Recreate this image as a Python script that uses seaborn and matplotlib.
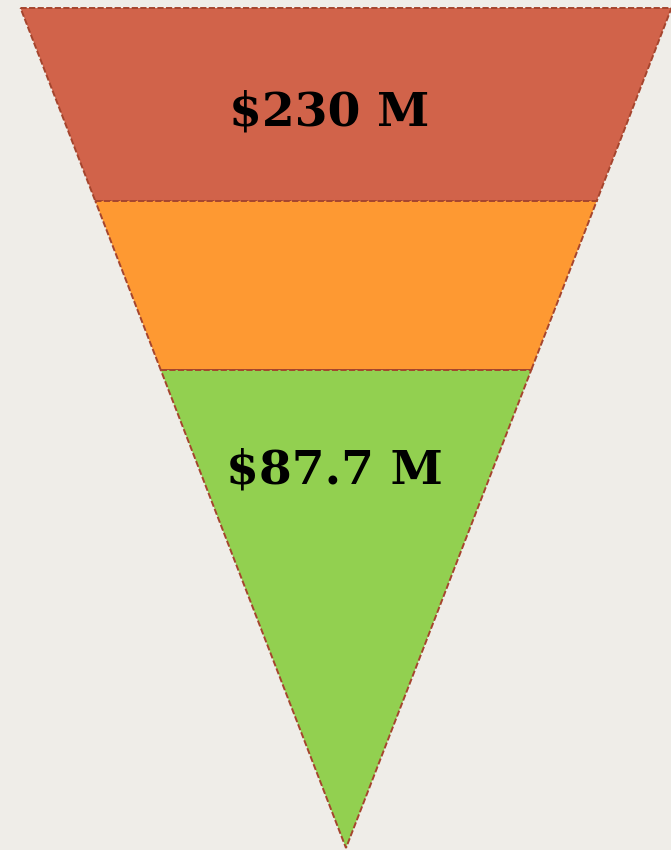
import matplotlib
matplotlib.use("Agg")
import numpy as np
import matplotlib.pyplot as plt
import seaborn as sns

# funnel stages, top to bottom
stage_labels = ["$230 M", "", "$87.7 M"]
stage_depth = [193, 169, 478]          # depth of each band in the funnel
stage_colors = ["#d1634a", "#fe9932", "#92d050"]
label_offset = [-17, 0, -12]           # small horizontal shift of the labels

sns.set_style("white")
plt.rcParams["font.family"] = ["DejaVu Serif"]

bg = "#efede8"
edge = "#a5452e"
top_half = 325.5
center_x = 346
top_y = 8
total = sum(stage_depth)

fig = plt.figure(figsize=(6.71, 8.5), dpi=100, facecolor=bg)
ax = fig.add_axes([0, 0, 1, 1])
ax.set_facecolor(bg)
ax.set_xlim(0, 671)
ax.set_ylim(850, 0)
ax.axis("off")

def half_width(d):
    return top_half * (1 - d / total)

d0 = 0
for lab, dep, col, off in zip(stage_labels, stage_depth, stage_colors, label_offset):
    d1 = d0 + dep
    w0, w1 = half_width(d0), half_width(d1)
    xs = [center_x - w0, center_x + w0, center_x + w1, center_x - w1]
    ys = [top_y + d0, top_y + d0, top_y + d1, top_y + d1]
    ax.fill(xs, ys, facecolor=col, edgecolor=edge, linewidth=1.4,
            linestyle=(0, (3.2, 1.2)), joinstyle="miter")
    if lab:
        if d0 == 0:
            ty = top_y + 104
        else:
            ty = top_y + d0 + 100
        ax.text(center_x + off, ty, lab, ha="center", va="center",
                fontsize=34, fontweight="bold", color="black")
    d0 = d1

fig.savefig("out.png", dpi=100, facecolor=bg)
